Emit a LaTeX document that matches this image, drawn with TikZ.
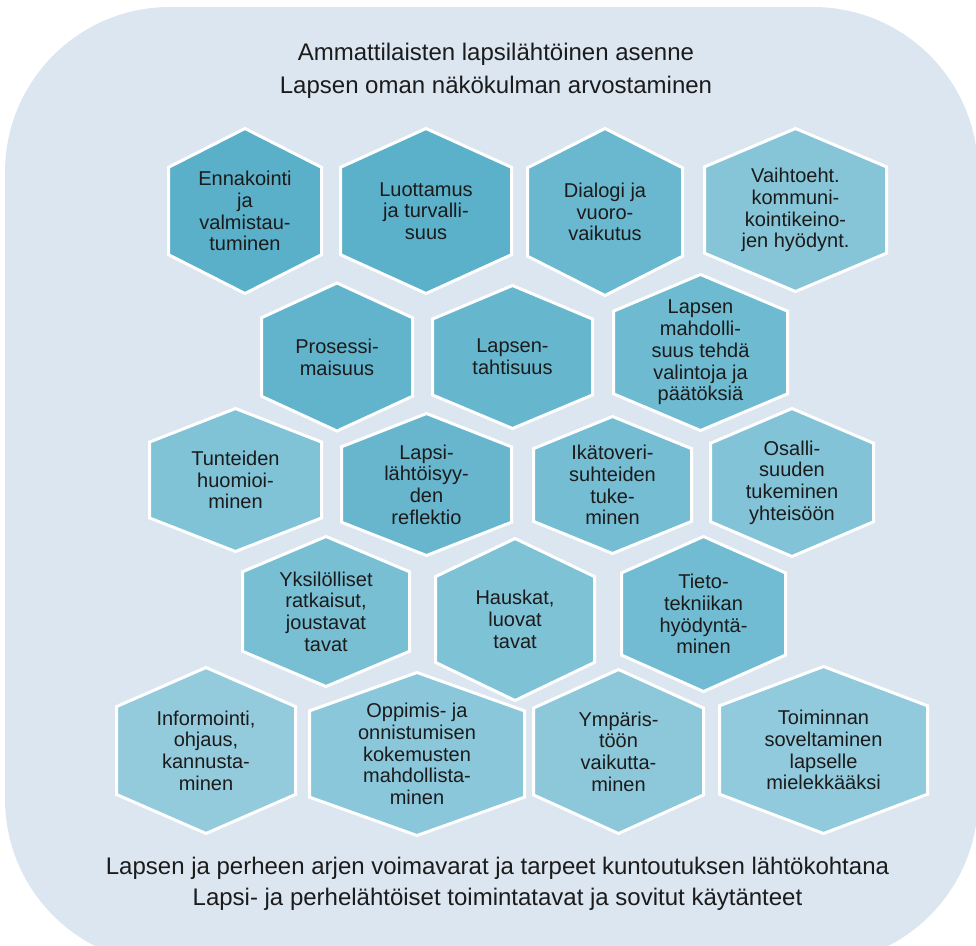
\documentclass[tikz,border=0pt]{standalone}
\usepackage{fontspec}
\setmainfont{Liberation Sans}
\definecolor{bgblue}{HTML}{DCE6F1}
\definecolor{txt}{HTML}{1B1B1B}
\definecolor{hA}{HTML}{5AAFC9}
\definecolor{hB}{HTML}{5BB0CA}
\definecolor{hC}{HTML}{6AB8CF}
\definecolor{hD}{HTML}{86C4D7}
\definecolor{hE}{HTML}{62B4CC}
\definecolor{hF}{HTML}{66B6CE}
\definecolor{hG}{HTML}{6EBAD1}
\definecolor{hH}{HTML}{80C2D6}
\definecolor{hI}{HTML}{67B6CE}
\definecolor{hJ}{HTML}{74BDD3}
\definecolor{hK}{HTML}{82C3D7}
\definecolor{hL}{HTML}{78BFD4}
\definecolor{hM}{HTML}{7EC2D6}
\definecolor{hN}{HTML}{71BCD3}
\definecolor{hO}{HTML}{93CBDD}
\definecolor{hP}{HTML}{8BC7DA}
\definecolor{hQ}{HTML}{8DC8DA}
\definecolor{hR}{HTML}{91CADC}
\tikzset{
  hexbox/.style={draw=white, line width=3pt, line join=miter},
  hextext/.style={align=center, inner sep=0pt, text=txt, font=\fontsize{20}{21.7}\selectfont},
  headtext/.style={align=center, inner sep=0pt, text=txt, font=\fontsize{24}{33}\selectfont},
  foottext/.style={align=center, inner sep=0pt, text=txt, font=\fontsize{24}{31}\selectfont},
}
\newcommand\hexnode[7]{%
  \pgfmathsetmacro\hxl{#2-#4+1.5}\pgfmathsetmacro\hxr{#2+#4-1.5}%
  \pgfmathsetmacro\hyt{#3-#5+1.5}\pgfmathsetmacro\hyb{#3+#5-1.5}%
  \pgfmathsetmacro\hyu{#3-#5+0.48*#5}\pgfmathsetmacro\hyd{#3+#5-0.48*#5}%
  \filldraw[hexbox, fill=#6] (#2,\hyt) -- (\hxr,\hyu) -- (\hxr,\hyd) -- (#2,\hyb) -- (\hxl,\hyd) -- (\hxl,\hyu) -- cycle;
  \node[hextext] (#1) at (#2,#3) {#7};
}
\begin{document}
\begin{tikzpicture}[x=1pt,y=-1pt]
\useasboundingbox (0,0) rectangle (976,945);
\begin{scope}
  \clip (0,0) rectangle (976,945);
  \fill[bgblue, rounded corners=165pt] (5,7) rectangle (978,964);
\end{scope}
\node[headtext] (head) at (496,71) {Ammattilaisten lapsilähtöinen asenne\\Lapsen oman näkökulman arvostaminen};
\node[foottext] (foot) at (497.5,884) {Lapsen ja perheen arjen voimavarat ja tarpeet kuntoutuksen lähtökohtana\\Lapsi- ja perhelähtöiset toimintatavat ja sovitut käytänteet};
% row 1
\hexnode{ennakointi}{245}{211}{78}{84}{hA}{Ennakointi\\ja\\valmistau-\\tuminen}
\hexnode{luottamus}{426}{211}{87}{84}{hB}{Luottamus\\ja turvalli-\\suus}
\hexnode{dialogi}{605}{212}{79}{85}{hC}{Dialogi ja\\vuoro-\\vaikutus}
\hexnode{vaihtoeht}{795.5}{210}{92.5}{83}{hD}{Vaihtoeht.\\kommuni-\\kointikeino-\\jen hyödynt.}
% row 2
\hexnode{prosessi}{337}{357}{77}{75.5}{hE}{Prosessi-\\maisuus}
\hexnode{tahtisuus}{512.5}{357}{81.5}{73}{hF}{Lapsen-\\tahtisuus}
\hexnode{valinnat}{700.5}{352.5}{88.5}{79.5}{hG}{Lapsen\\mahdolli-\\suus tehdä\\valintoja ja\\päätöksiä}
% row 3
\hexnode{tunteet}{235.5}{480}{87.5}{73}{hH}{Tunteiden\\huomioi-\\minen}
\hexnode{reflektio}{426.5}{484.5}{86.5}{72.5}{hI}{Lapsi-\\lähtöisyy-\\den\\reflektio}
\hexnode{ikatoveri}{612.5}{485}{80.5}{70}{hJ}{Ikätoveri-\\suhteiden\\tuke-\\minen}
\hexnode{osallisuus}{792}{482.5}{83}{75.5}{hK}{Osalli-\\suuden\\tukeminen\\yhteisöön}
% row 4
\hexnode{yksilolliset}{326}{611.5}{85}{76.5}{hL}{Yksilölliset\\ratkaisut,\\joustavat\\tavat}
\hexnode{hauskat}{515}{619.5}{81}{82.5}{hM}{Hauskat,\\luovat\\tavat}
\hexnode{tieto}{703.5}{614}{83.5}{79}{hN}{Tieto-\\tekniikan\\hyödyntä-\\minen}
% row 5
\hexnode{informointi}{206}{750.5}{91}{84.5}{hO}{Informointi,\\ohjaus,\\kannusta-\\minen}
\hexnode{oppimis}{417}{754}{109}{83}{hP}{Oppimis- ja\\onnistumisen\\kokemusten\\mahdollista-\\minen}
\hexnode{ymparisto}{618.5}{751.5}{86.5}{83.5}{hQ}{Ympäris-\\töön\\vaikutta-\\minen}
\hexnode{toiminnan}{823.5}{750}{105.5}{85}{hR}{Toiminnan\\soveltaminen\\lapselle\\mielekkääksi}
\end{tikzpicture}
\end{document}
